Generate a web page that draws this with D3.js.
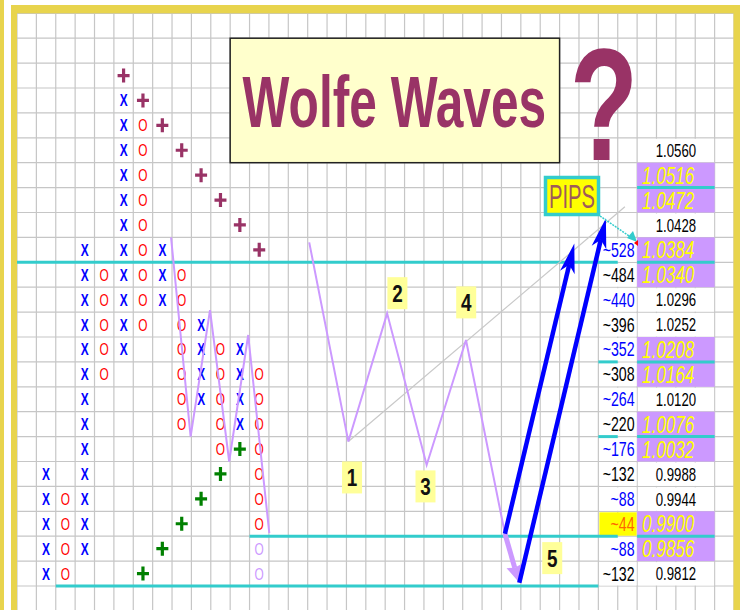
<!DOCTYPE html>
<html>
<head>
<meta charset="utf-8">
<script src="https://cdn.jsdelivr.net/npm/d3@7"></script>
<style>
  body { margin: 0; background: #fff; }
  svg { display: block; font-family: "Liberation Sans", Arial, sans-serif; }
</style>
</head>
<body>
<div id="chart"></div>
<script>
// point & figure columns (grid column, box type, top row, bottom row)
const pfCols   = [1, 2, 3, 4, 5, 6, 7, 8, 9, 10, 11, 12];
const pfTypes  = ["X","O","X","O","X","O","X","O","X","O","X","O"];
const pfTop    = [18, 19, 9, 10, 3, 4, 9, 10, 12, 13, 13, 14];
const pfBottom = [22, 22, 21, 14, 13, 12, 11, 16, 15, 17, 16, 20];
const ghostCol = 12, ghostRows = [21, 22];

// trend line crosses
const resistCols = [5, 6, 7, 8, 9, 10, 11, 12];
const resistRows = [2, 3, 4, 5, 6, 7, 8, 9];
const supportCols = [6, 7, 8, 9, 10, 11];
const supportRows = [22, 21, 20, 19, 18, 17];

// price scale on the right
const priceRows = d3.range(5, 23);
const prices = ["1.0560","1.0516","1.0472","1.0428","1.0384","1.0340","1.0296","1.0252","1.0208",
                "1.0164","1.0120","1.0076","1.0032","0.9988","0.9944","0.9900","0.9856","0.9812"];
const priceMarked = [0,1,1,0,1,1,0,0,1,1,0,1,1,0,0,1,1,0];

// pips from the target
const pipRows = d3.range(9, 23);
const pips = ["~528","~484","~440","~396","~352","~308","~264","~220","~176","~132","~88","~44","~88","~132"];
const pipKind = ["b","k","b","k","b","k","b","k","b","k","b","o","b","k"];

// wolfe wave path (grid units: col, row)
const pfZigCol = [7.95, 8.96, 9.96, 10.95, 11.93, 13.02];
const pfZigRow = [9.0, 17.0, 11.92, 18.0, 12.92, 20.88];
const waveCol = [15.08, 17.1, 19.1, 21.14, 23.17, 25.18];
const waveRow = [9.2, 17.2, 12.05, 18.14, 13.12, 20.9];
const waveNames = ["1", "2", "3", "4", "5"];
const nameCol = [17.29, 19.63, 21.08, 23.18, 27.62];
const nameRow = [18.64, 11.24, 19.0, 11.61, 21.88];

// cyan levels: row, from col, to col
const levelRows = [10, 21, 23];
const levelFrom = [0, 12, 2];
const levelTo   = [31, 31, 30];
const tableLines = [7, 10, 14, 17, 21];
const pipLines = [14, 17];

const width = 747, height = 610;
const x = d3.scaleLinear().domain([0, 37]).range([17, 734]);
const y = d3.scaleLinear().domain([0, 24]).range([13.3, 610.9]);
const rh = y(1) - y(0);

const svg = d3.select("#chart").append("svg")
  .attr("width", width).attr("height", height);

svg.append("rect").attr("width", width).attr("height", height).attr("fill", "#fff");

// grid
const grid = svg.append("g").attr("stroke", "#c6c6c6").attr("stroke-width", 1.2);
grid.selectAll("line.v").data(d3.range(0, 38)).join("line")
  .attr("x1", d => x(d)).attr("x2", d => x(d)).attr("y1", y(0)).attr("y2", height);
grid.selectAll("line.h").data(d3.range(0, 24)).join("line")
  .attr("y1", d => y(d)).attr("y2", d => y(d)).attr("x1", x(0)).attr("x2", x(37));

// frame
const frame = "#e8d44d";
svg.append("rect").attr("x", 0).attr("y", 0).attr("width", 4).attr("height", height).attr("fill", frame);
svg.append("rect").attr("x", 11).attr("y", 5).attr("width", 6).attr("height", height).attr("fill", frame);
svg.append("rect").attr("x", 11).attr("y", 5).attr("width", 729).attr("height", 8.3).attr("fill", frame);
svg.append("rect").attr("x", 733.5).attr("y", 5).attr("width", 6.5).attr("height", height).attr("fill", frame);

// table backgrounds
svg.selectAll("rect.pipbg").data(pipRows).join("rect")
  .attr("x", x(30) + 1).attr("width", x(32) - x(30) - 1.5)
  .attr("y", d => y(d) + 1).attr("height", rh - 1.5)
  .attr("fill", (d, i) => pipKind[i] === "o" ? "#ffff00" : "#fff");
svg.selectAll("rect.pricebg").data(priceRows).join("rect")
  .attr("x", (d, i) => priceMarked[i] ? x(32) : x(32) + 1)
  .attr("width", (d, i) => priceMarked[i] ? x(36) - x(32) : x(36) - x(32) - 1.5)
  .attr("y", (d, i) => priceMarked[i] ? y(d) : y(d) + 1)
  .attr("height", (d, i) => priceMarked[i] ? rh : rh - 1.5)
  .attr("fill", (d, i) => priceMarked[i] ? "#cc99ff" : "#fff");

// cyan levels
const cyan = "#33cccc";
svg.selectAll("line.level").data(levelRows).join("line")
  .attr("x1", (d, i) => x(levelFrom[i])).attr("x2", (d, i) => x(levelTo[i]))
  .attr("y1", d => y(d)).attr("y2", d => y(d))
  .attr("stroke", cyan).attr("stroke-width", 3);
svg.selectAll("line.tbl").data(tableLines).join("line")
  .attr("x1", x(32)).attr("x2", x(36)).attr("y1", d => y(d)).attr("y2", d => y(d))
  .attr("stroke", cyan).attr("stroke-width", 3);
svg.selectAll("line.pipl").data(pipLines).join("line")
  .attr("x1", x(30)).attr("x2", x(31)).attr("y1", d => y(d)).attr("y2", d => y(d))
  .attr("stroke", cyan).attr("stroke-width", 3);

// squeezed text helper
function stext(g, px, py, str, sx) {
  return g.append("text")
    .attr("transform", `translate(${px},${py}) scale(${sx},1)`)
    .text(str);
}

// P&F boxes
const boxes = [];
pfCols.forEach((c, i) => {
  d3.range(pfTop[i], pfBottom[i] + 1).forEach(r => boxes.push({ c, r, t: pfTypes[i], ghost: false }));
});
ghostRows.forEach(r => boxes.push({ c: ghostCol, r, t: "O", ghost: true }));
const pf = svg.append("g").attr("font-size", 16.5).attr("text-anchor", "middle");
boxes.forEach(b => {
  stext(pf, x(b.c + 0.5), y(b.r + 0.5) + 6, b.t, 0.72)
    .attr("font-weight", b.t === "X" ? "bold" : "normal")
    .attr("fill", b.ghost ? "#cc99ff" : (b.t === "X" ? "#0000ff" : "#ff0000"));
});

// crosses
function cross(cols, rows, color) {
  svg.append("g").selectAll("path").data(cols).join("path")
    .attr("d", (c, i) => {
      const cx = x(c + 0.5), cy = y(rows[i] + 0.5);
      return `M${cx - 6},${cy}H${cx + 6}M${cx},${cy - 7}V${cy + 7}`;
    })
    .attr("stroke", color).attr("stroke-width", 3.2).attr("fill", "none");
}
cross(resistCols, resistRows, "#993366");
cross(supportCols, supportRows, "#008000");

// zigzags
const line = d3.line().x(d => x(d[0])).y(d => y(d[1]));
svg.append("path").datum(pfZigCol.map((c, i) => [c, pfZigRow[i]]))
  .attr("d", line).attr("fill", "none").attr("stroke", "#cc99ff").attr("stroke-width", 2);

// 1-4 line
const trendEnd = [31.37, 7.77];
svg.append("path").datum([[waveCol[1], waveRow[1]], trendEnd])
  .attr("d", line).attr("stroke", "#c8c8c8").attr("stroke-width", 1.2);

svg.append("path").datum(waveCol.map((c, i) => [c, waveRow[i]]))
  .attr("d", line).attr("fill", "none").attr("stroke", "#cc99ff").attr("stroke-width", 2);

// arrows
function arrow(from, to, color, w, len, half, notch) {
  const sx = x(from[0]), sy = y(from[1]), tx = x(to[0]), ty = y(to[1]);
  const d = Math.hypot(tx - sx, ty - sy), ux = (tx - sx) / d, uy = (ty - sy) / d;
  const nx = -uy, ny = ux;
  const bx = tx - len * ux, by = ty - len * uy;
  const mx = tx - (len - notch) * ux, my = ty - (len - notch) * uy;
  svg.append("line").attr("x1", sx).attr("y1", sy).attr("x2", mx).attr("y2", my)
    .attr("stroke", color).attr("stroke-width", w);
  svg.append("path")
    .attr("d", `M${tx},${ty}L${bx + half * nx},${by + half * ny}L${mx},${my}L${bx - half * nx},${by - half * ny}Z`)
    .attr("fill", color);
}
arrow([waveCol[5], waveRow[5]], [25.9, 22.85], "#cc99ff", 5, 17, 8, 2);
arrow([waveCol[5], waveRow[5]], [28.76, 9.24], "#0000ff", 4.5, 30, 7.5, 8);
arrow([25.92, 22.87], [30.39, 8.23], "#0000ff", 4.5, 30, 7.5, 8);

// wave labels
const nm = svg.append("g");
waveNames.forEach((n, i) => {
  const cx = x(nameCol[i]), cy = y(nameRow[i]);
  nm.append("rect").attr("x", cx - 10).attr("y", cy - 16).attr("width", 20).attr("height", 32)
    .attr("fill", "#ffff99");
  stext(nm, cx, cy + 8.5, n, 0.82).attr("font-size", 23).attr("font-weight", "bold")
    .attr("text-anchor", "middle").attr("fill", "#111");
});

// pips labels
const pipColor = { b: "#0000ff", k: "#000", o: "#ff6600" };
const pl = svg.append("g").attr("font-size", 20).attr("text-anchor", "end");
pipRows.forEach((r, i) => {
  stext(pl, x(32) - 2.5, y(r + 0.5) + 7, pips[i], 0.71).attr("fill", pipColor[pipKind[i]]);
});

// price labels
const pr = svg.append("g");
priceRows.forEach((r, i) => {
  if (priceMarked[i]) {
    stext(pr, x(32) + 5, y(r + 0.5) + 8.5, prices[i], 0.71)
      .attr("font-size", 24).attr("font-style", "italic").attr("fill", "#ffff00");
  } else {
    stext(pr, x(36) - 18.5, y(r + 0.5) + 6.7, prices[i], 0.71)
      .attr("font-size", 18.6).attr("text-anchor", "end").attr("fill", "#000");
  }
});

// title box
svg.append("rect").attr("x", x(11)).attr("y", y(1)).attr("width", x(28) - x(11)).attr("height", y(6) - y(1))
  .attr("fill", "#ffffcc").attr("stroke", "#222").attr("stroke-width", 1.5);
stext(svg, (x(11) + x(28)) / 2 - 0.5, 126.7, "Wolfe Waves", 0.69)
  .attr("font-size", 72).attr("font-weight", "bold").attr("text-anchor", "middle").attr("fill", "#993366");

stext(svg, 604, 160, "?", 0.7)
  .attr("font-size", 160).attr("font-weight", "bold").attr("text-anchor", "middle").attr("fill", "#993366");

// PIPS box and pointer
svg.append("line").attr("x1", 600).attr("y1", 216).attr("x2", 632).attr("y2", 238)
  .attr("stroke", cyan).attr("stroke-width", 1.5).attr("stroke-dasharray", "2,1");
svg.append("path").attr("d", "M637,242L627,238L633,231Z").attr("fill", cyan);
svg.append("path").attr("d", "M638,240L638,246L634,243Z").attr("fill", "#ff0000");
svg.append("rect").attr("x", 545.5).attr("y", 177.5).attr("width", 53).attr("height", 37)
  .attr("fill", "#ffff00").attr("stroke", cyan).attr("stroke-width", 3.5);
svg.append("text").attr("x", 549).attr("y", 207.5).attr("font-size", 33)
  .attr("textLength", 46).attr("lengthAdjust", "spacingAndGlyphs")
  .attr("fill", "#a05a5a").text("PIPS");
</script>
</body>
</html>
